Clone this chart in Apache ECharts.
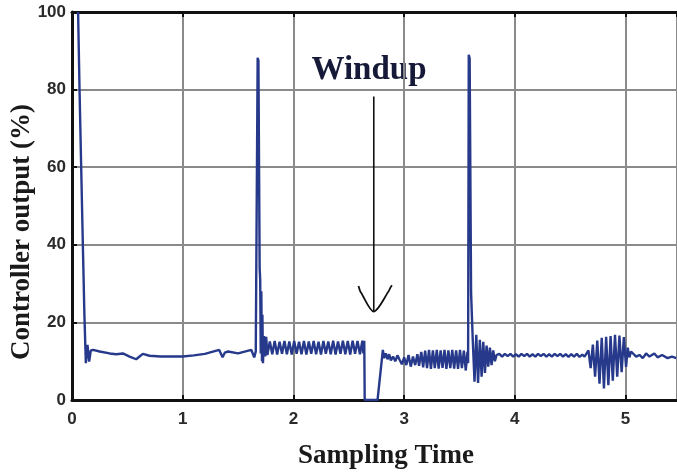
<!DOCTYPE html>
<html>
<head>
<meta charset="utf-8">
<script src="https://cdn.jsdelivr.net/npm/echarts@6/dist/echarts.min.js"></script>
<style>
html,body{margin:0;padding:0;background:#fff;}
#chart{width:677px;height:475px;}
</style>
</head>
<body>
<div id="chart"></div>
<script>
// ---- data (time, controller output %) ----
const xTicks = [0, 1, 2, 3, 4, 5];
const yTicks = [0, 20, 40, 60, 80, 100];

const startup = [[0.055,100],[0.068,80],[0.083,60],[0.098,40],[0.112,22],[0.125,9.5],[0.14,14.2],[0.155,9.9],[0.17,12.8],[0.19,12.9],[0.25,12.5],[0.34,12],[0.40,11.8],[0.46,12],[0.52,11.2],[0.58,10.5],[0.61,11.2],[0.64,11.9],[0.70,11.4],[0.80,11.2],[1.0,11.2],[1.1,11.5],[1.2,11.9],[1.33,12.9],[1.36,11],[1.38,12.2],[1.41,12.5],[1.5,12],[1.62,12.9],[1.646,11],[1.66,12.5],[1.672,13]];

const spike1 = [[1.677,88.2],[1.684,87.5],[1.695,34],[1.70,31],[1.705,12],[1.71,28],[1.716,10],[1.72,22],[1.725,9.5],[1.735,16.5],[1.745,11.2],[1.754,16.3]];

const limitCycle = [[1.765,11.6],[1.787,15.1],[1.809,11.8],[1.831,15.2],[1.853,11.7],[1.875,15.0],[1.897,11.9],[1.919,15.2],[1.941,11.8],[1.963,15.1],[1.985,11.7],[2.007,15.2],[2.029,11.9],[2.051,15.0],[2.073,11.8],[2.095,15.2],[2.117,11.7],[2.139,15.1],[2.161,11.9],[2.183,15.2],[2.205,11.8],[2.227,15.0],[2.249,11.7],[2.271,15.2],[2.293,11.9],[2.315,15.1],[2.337,11.8],[2.359,15.3],[2.381,11.7],[2.403,15.1],[2.425,11.9],[2.447,15.3],[2.469,11.8],[2.491,15.2],[2.513,11.7],[2.535,15.3],[2.557,11.9],[2.579,15.2],[2.601,11.8],[2.623,15.3],[2.632,12.0],[2.640,15.3]];

const windup = [[2.644,0],[2.76,0],[2.808,12.9]];

const recovery = [[2.82,10.8],[2.835,12.0],[2.85,10.5],[2.865,11.8],[2.88,10.2],[2.90,11.2],[2.92,10.0],[2.94,11.5],[2.96,10.3],[2.98,9.2],[3.00,11.0],[3.02,9.0],[3.04,11.6],[3.06,8.6],[3.08,11.2],[3.10,9.0],[3.12,11.8],[3.135,8.8]];

const band = [[3.155,12.4],[3.172,8.4],[3.19,12.7],[3.207,8.2],[3.225,12.9],[3.242,8.0],[3.26,12.8],[3.277,8.2],[3.295,12.9],[3.312,8.1],[3.33,12.8],[3.347,8.3],[3.365,12.9],[3.382,8.0],[3.40,12.8],[3.417,8.2],[3.435,12.9],[3.452,8.1],[3.47,12.8],[3.487,8.0],[3.505,12.9],[3.522,8.2],[3.54,12.7],[3.557,7.6],[3.572,12.4],[3.578,9.5]];

const spike2 = [[3.584,89],[3.592,88],[3.605,27.6],[3.62,15.5],[3.636,4.7],[3.652,16.8],[3.668,4.4],[3.684,15.5],[3.70,6],[3.715,15],[3.73,7],[3.745,14],[3.76,8.6],[3.775,13.5],[3.79,9],[3.805,12.8],[3.82,10],[3.835,11.6]];

const settle = [[3.86,11.9],[3.885,11.2],[3.91,11.9],[3.935,11.3],[3.96,11.9],[3.985,11.2],[4.01,11.8],[4.035,11.2],[4.06,11.9],[4.085,11.3],[4.11,11.9],[4.135,11.2],[4.16,11.8],[4.185,11.2],[4.21,11.9],[4.235,11.3],[4.26,11.9],[4.285,11.2],[4.31,11.8],[4.335,11.2],[4.36,11.9],[4.385,11.3],[4.41,11.9],[4.435,11.2],[4.46,11.8],[4.485,11.1],[4.51,11.8],[4.535,11.2],[4.56,11.9],[4.585,11.1],[4.61,11.7],[4.63,11.2]];

const burst = [[4.645,11.5],[4.665,12.8],[4.685,8.2],[4.705,14.3],[4.725,6.0],[4.745,15.3],[4.765,4.2],[4.785,16.0],[4.805,3.0],[4.825,16.3],[4.845,3.8],[4.865,16.5],[4.885,5.0],[4.905,16.8],[4.925,6.0],[4.945,16.6],[4.965,7.2],[4.985,16.2],[5.005,8.5],[5.02,13.5],[5.035,11.0],[5.05,12.5]];

const tail = [[5.066,12.0],[5.096,11.2],[5.126,11.6],[5.156,10.8],[5.186,12.0],[5.216,11.2],[5.26,12.0],[5.29,11.0],[5.33,11.6],[5.38,10.8],[5.42,11.2],[5.458,10.8]];

const arrowShaft = [[2.726,78.2],[2.726,22.8]];
const arrowHead = [[2.588,29.4],[2.60,28.3],[2.61,27.7],[2.726,22.8],[2.86,28.0],[2.875,28.9],[2.89,29.6]];

const signal = [].concat(startup, spike1, limitCycle, windup, recovery, band, spike2, settle, burst, tail);

const chart = echarts.init(document.getElementById('chart'), null, {renderer:'canvas'});
const axisFont = {fontFamily:'Liberation Sans, Arial, sans-serif', fontWeight:'bold', fontSize:17, color:'#2a2a2a'};
const titleFont = 'Liberation Serif, Times New Roman, serif';

chart.setOption({
  animation:false,
  backgroundColor:'#ffffff',
  grid:{left:72, right:0, top:12, bottom:75},
  xAxis:[{
    type:'value', min:0, max:5.465, interval:1,
    axisLine:{show:true, lineStyle:{color:'#111', width:3}},
    axisTick:{show:true, inside:true, length:5, lineStyle:{color:'#111', width:2}},
    axisLabel:Object.assign({margin:11, showMaxLabel:false, formatter:v=>xTicks.includes(v)?String(v):''}, axisFont),
    splitLine:{show:true, lineStyle:{color:'#8a8a8a', width:2}}
  },{
    type:'value', position:'top', min:0, max:5.465, interval:1,
    axisLine:{show:true, onZero:false, lineStyle:{color:'#111', width:3}},
    axisTick:{show:true, inside:true, length:5, lineStyle:{color:'#111', width:2}},
    axisLabel:{show:false}, splitLine:{show:false}
  }],
  yAxis:{
    type:'value', min:0, max:100, interval:20,
    axisLine:{show:true, lineStyle:{color:'#111', width:3}},
    axisTick:{show:true, inside:true, length:5, lineStyle:{color:'#111', width:2}},
    axisLabel:Object.assign({margin:6, formatter:v=>yTicks.includes(v)?String(v):''}, axisFont),
    splitLine:{show:true, lineStyle:{color:'#8a8a8a', width:2}}
  },
  series:[{
    type:'line', data:signal, showSymbol:false, symbol:'none',
    lineStyle:{color:'#27398b', width:2.4}, clip:true
  },{
    type:'line', data:arrowShaft, showSymbol:false, symbol:'none',
    lineStyle:{color:'#111', width:1.6}
  },{
    type:'line', data:arrowHead, showSymbol:false, symbol:'none', smooth:0.3,
    lineStyle:{color:'#111', width:1.8}
  }],
  graphic:[{
    type:'text', x:386, y:456,
    style:{text:'Sampling Time', font:'bold 27px '+titleFont, fill:'#1a1a1a', textAlign:'center', textVerticalAlign:'middle'}
  },{
    type:'text', x:22, y:232, rotation:Math.PI/2,
    style:{text:'Controller output (%)', font:'bold 27px '+titleFont, fill:'#1a1a1a', textAlign:'center', textVerticalAlign:'middle'}
  },{
    type:'text', x:369, y:70,
    style:{text:'Windup', font:'bold 33px '+titleFont, fill:'#161a38', textAlign:'center', textVerticalAlign:'middle',
      textShadowColor:'rgba(210,130,20,0.55)', textShadowOffsetX:-1, textShadowOffsetY:0, textShadowBlur:0}
  }]
});
</script>
</body>
</html>
